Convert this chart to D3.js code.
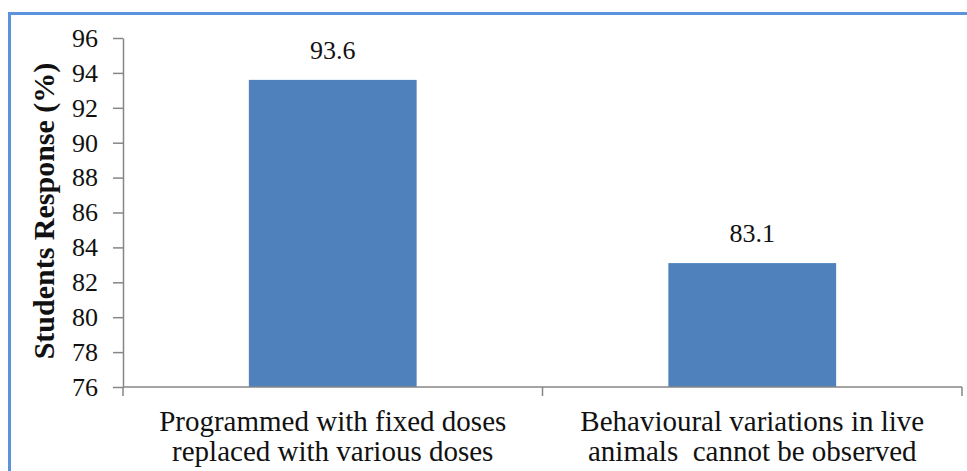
<!DOCTYPE html>
<html>
<head>
<meta charset="utf-8">
<script src="https://cdn.jsdelivr.net/npm/d3@7"></script>
<style>
  html, body { margin: 0; padding: 0; background: #fff; }
  svg { display: block; }
  svg text { font-family: "Liberation Serif", "Times New Roman", serif; fill: #111; }
</style>
</head>
<body>
<svg id="chart" width="967" height="471"></svg>
<script>
// Survey results: share of students agreeing with each statement
const categories = [
  ["Programmed with fixed doses", "replaced with various doses"],
  ["Behavioural variations in live", "animals  cannot be observed"]
];
const values = [93.6, 83.1];
const yTicks = [76, 78, 80, 82, 84, 86, 88, 90, 92, 94, 96];
const yTitle = "Students Response (%)";

const svg = d3.select("#chart");
const W = 967, H = 471;
const plot = { left: 123, right: 962, top: 38, bottom: 387 };
const serif = "'Liberation Serif', 'Times New Roman', serif";

// Frame around the chart area (top and left edges visible)
svg.append("path")
  .attr("d", `M9.5,${H} L9.5,13.5 L${W},13.5`)
  .attr("fill", "none")
  .attr("stroke", "#5b93dc")
  .attr("stroke-width", 3);

const x = d3.scaleBand()
  .domain(d3.range(values.length))
  .range([plot.left, plot.right])
  .paddingInner(0.6)
  .paddingOuter(0.3);

const y = d3.scaleLinear()
  .domain([76, 96])
  .range([plot.bottom, plot.top]);

// Bars
svg.append("g").selectAll("rect")
  .data(values)
  .join("rect")
  .attr("x", (d, i) => x(i))
  .attr("y", d => y(d))
  .attr("width", x.bandwidth())
  .attr("height", d => y(76) - y(d))
  .attr("fill", "#4f81bd");

// Value labels
svg.append("g").selectAll("text")
  .data(values)
  .join("text")
  .attr("x", (d, i) => x(i) + x.bandwidth() / 2)
  .attr("y", d => y(d) - 21)
  .attr("text-anchor", "middle")
  .style("font-family", serif)
  .style("font-size", "26px")
  .text(d => d.toFixed(1));

// Y axis
const yAxis = svg.append("g")
  .attr("transform", `translate(${plot.left},0)`)
  .call(d3.axisLeft(y).tickValues(yTicks).tickSize(10).tickPadding(15).tickSizeOuter(0));
yAxis.attr("font-family", null).attr("font-size", null);
yAxis.select(".domain").attr("stroke", "#868686").attr("stroke-width", 1.5);
yAxis.selectAll(".tick line").attr("stroke", "#868686").attr("stroke-width", 1.5);
yAxis.selectAll(".tick text")
  .style("font-family", serif)
  .style("font-size", "26px")
  .attr("fill", "#111");

// X axis: baseline with ticks at category boundaries
const xg = svg.append("g");
xg.append("line")
  .attr("x1", plot.left).attr("x2", plot.right)
  .attr("y1", plot.bottom).attr("y2", plot.bottom)
  .attr("stroke", "#868686").attr("stroke-width", 1.5);
const step = (plot.right - plot.left) / values.length;
xg.selectAll("line.tick")
  .data(d3.range(values.length + 1))
  .join("line")
  .attr("class", "tick")
  .attr("x1", i => plot.left + i * step)
  .attr("x2", i => plot.left + i * step)
  .attr("y1", plot.bottom)
  .attr("y2", plot.bottom + 9)
  .attr("stroke", "#868686").attr("stroke-width", 1.5);

// Category labels (two lines each)
const catText = xg.selectAll("text.cat")
  .data(categories)
  .join("text")
  .attr("class", "cat")
  .attr("text-anchor", "middle")
  .style("font-family", serif)
  .style("font-size", "29px")
  .style("white-space", "pre");
catText.selectAll("tspan")
  .data((d, i) => d.map(line => ({ line, i })))
  .join("tspan")
  .attr("x", d => x(d.i) + x.bandwidth() / 2)
  .attr("y", (d, j) => 431 + j * 30)
  .text(d => d.line);

// Y axis title
svg.append("text")
  .attr("transform", `translate(54,211) rotate(-90)`)
  .attr("text-anchor", "middle")
  .style("font-family", serif)
  .style("font-size", "30px")
  .style("font-weight", "bold")
  .text(yTitle);
</script>
</body>
</html>
